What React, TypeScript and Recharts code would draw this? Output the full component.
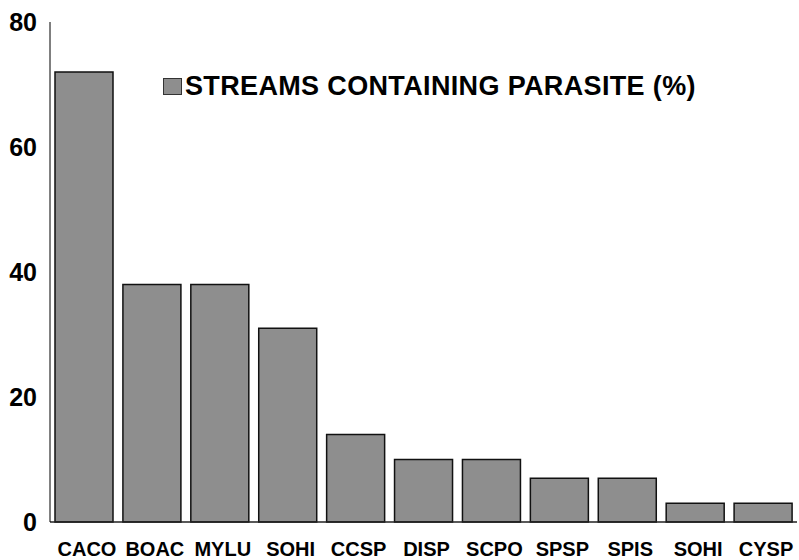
import { BarChart, Bar, XAxis, YAxis } from "recharts";

// species codes along the x axis
const species = ["CACO", "BOAC", "MYLU", "SOHI", "CCSP", "DISP", "SCPO", "SPSP", "SPIS", "SOHI", "CYSP"];
// % of streams containing the parasite
const streamsPct = [72, 38, 38, 31, 14, 10, 10, 7, 7, 3, 3];
const yTicks = [0, 20, 40, 60, 80];
const seriesLabel = "STREAMS CONTAINING PARASITE (%)";

const data = species.map((s, i) => ({ key: i, name: s, value: streamsPct[i] }));

const FONT = "'Liberation Sans', Arial, sans-serif";
const BAR_FILL = "#8e8e8e";

// legend sits inside the plot, so it is drawn as an overlay that does not push the axes around
function LegendBox() {
  return (
    <div
      style={{
        position: "absolute",
        top: 73,
        left: 163,
        display: "flex",
        alignItems: "center",
        fontFamily: FONT,
        fontWeight: 700,
        fontSize: 27,
        letterSpacing: 0.35,
        color: "#000",
        lineHeight: "27px",
        whiteSpace: "nowrap",
      }}
    >
      <span style={{ width: 19, height: 17, background: BAR_FILL, border: "1px solid #333", boxSizing: "border-box", marginRight: 3 }} />
      <span>{seriesLabel}</span>
    </div>
  );
}

export default function App() {
  return (
    <div style={{ position: "absolute", left: 0, top: 0, width: 799, height: 560, background: "#fff" }}>
      <BarChart
        width={799}
        height={560}
        data={data}
        margin={{ top: 22, right: 2, bottom: 0, left: 0 }}
        barCategoryGap={5}
      >
        <XAxis
          dataKey="key"
          height={38}
          tickFormatter={(i) => species[i]}
          axisLine={{ stroke: "#222", strokeWidth: 1.5 }}
          tickLine={false}
          tickSize={0}
          tickMargin={20}
          interval={0}
          tick={{ fill: "#000", fontFamily: FONT, fontWeight: 700, fontSize: 20, dx: 3 }}
        />
        <YAxis
          width={50}
          domain={[0, 80]}
          ticks={yTicks}
          axisLine={{ stroke: "#000", strokeWidth: 1 }}
          tickLine={false}
          tickSize={0}
          tickMargin={13}
          tick={{ fill: "#000", fontFamily: FONT, fontWeight: 700, fontSize: 25 }}
        />
        <Bar dataKey="value" fill={BAR_FILL} stroke="#111" strokeWidth={1.5} isAnimationActive={false} />
      </BarChart>
      <LegendBox />
    </div>
  );
}
